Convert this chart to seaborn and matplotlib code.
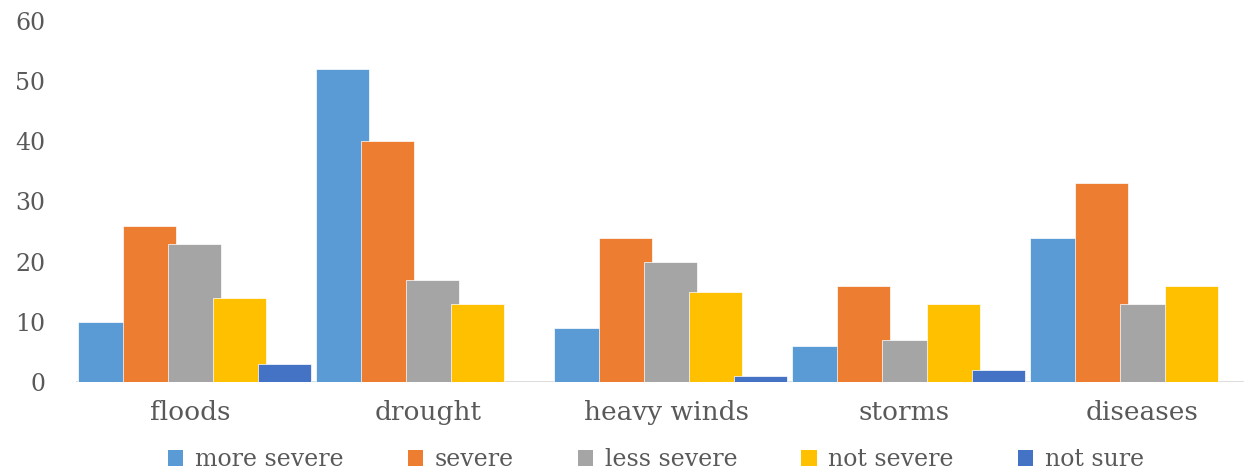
import matplotlib
matplotlib.use("Agg")
import matplotlib.pyplot as plt
import seaborn as sns
import pandas as pd
from matplotlib.patches import Patch

# Hazards and the reported severity counts
hazards = ["floods", "drought", "heavy winds", "storms", "diseases"]
severities = ["more severe", "severe", "less severe", "not severe", "not sure"]
more_severe = [10, 52, 9, 6, 24]
severe = [26, 40, 24, 16, 33]
less_severe = [23, 17, 20, 7, 13]
not_severe = [14, 13, 15, 13, 16]
not_sure = [3, 0, 1, 2, 0]
colors = ["#5B9BD5", "#ED7D31", "#A5A5A5", "#FFC000", "#4472C4"]
yticks = [0, 10, 20, 30, 40, 50, 60]

series = [more_severe, severe, less_severe, not_severe, not_sure]
rows = []
for sev, vals in zip(severities, series):
    for h, v in zip(hazards, vals):
        rows.append({"hazard": h, "severity": sev, "count": v})
df = pd.DataFrame(rows)

sns.set_style("white")
plt.rcParams["font.family"] = ["DejaVu Serif"]
text_color = "#595959"

fig = plt.figure(figsize=(12.44, 4.72), dpi=100)
ax = fig.add_axes([0.0611, 0.1907, 0.9389, 0.7648])

group_width = 0.945
sns.barplot(data=df, x="hazard", y="count", hue="severity",
            order=hazards, hue_order=severities, palette=colors,
            width=group_width, dodge=True, saturation=1, errorbar=None,
            legend=False, ax=ax, edgecolor="white", linewidth=0.5)

# Widen bars from their left edge so neighbouring series overlap slightly
bar_w = 0.223
for cont in ax.containers:
    for p in cont.patches:
        p.set_width(bar_w)

ax.set_xlim(-0.481, 4.427)
ax.set_ylim(0, 60)
ax.set_yticks(yticks)
ax.set_xlabel("")
ax.set_ylabel("")
for s in ax.spines.values():
    s.set_visible(False)
ax.axhline(0, color="#D9D9D9", lw=2, zorder=0.5)

ax.tick_params(axis="y", length=0, pad=22, labelsize=17, labelcolor=text_color)
ax.tick_params(axis="x", length=0, pad=13, labelsize=19, labelcolor=text_color)

handles = [Patch(facecolor=c, edgecolor="none") for c in colors]
leg = ax.legend(handles, severities, loc="center", bbox_to_anchor=(0.4966, -0.215),
                ncol=5, frameon=False, fontsize=17, handlelength=0.65,
                handleheight=0.65, handletextpad=0.5, columnspacing=2.7,
                labelcolor=text_color, borderpad=0.2)

fig.savefig("out.png", dpi=100)
